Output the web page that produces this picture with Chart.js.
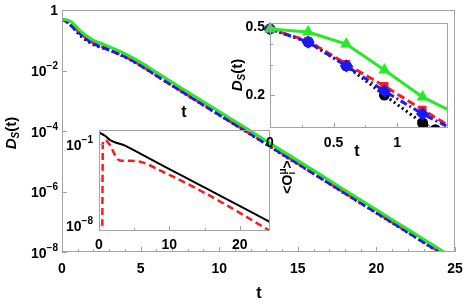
<!DOCTYPE html>
<html>
<head>
    <title>D_S(t)</title>
    <script src="https://cdn.jsdelivr.net/npm/chart.js"></script>
    <style>
        body { margin: 0; background: #fff; }
        #wrap { position: relative; width: 463px; height: 303px; }
        #wrap canvas { position: absolute; left: 0; top: 0; }
    </style>
</head>
<body>
<div id="wrap">
    <canvas id="mainChart" width="463" height="303"></canvas>
    <canvas id="obsChart" width="463" height="303"></canvas>
    <canvas id="zoomChart" width="463" height="303"></canvas>
</div>
<script>
    // main plot: D_S(t), log scale
    const mainT     = [0, 0.3, 0.6, 0.9, 1.2, 1.6, 2, 2.5, 3, 4, 5, 6, 8, 10, 12, 14, 16, 18, 20, 22, 24, 25];
    const mainGreen = [0.49, 0.47, 0.40, 0.282, 0.196, 0.135, 0.10, 0.078, 0.062, 0.036, 0.0186, 0.0087, 0.00195, 4.4e-4, 1.0e-4, 2.2e-5, 5.0e-6, 1.1e-6, 2.5e-7, 5.6e-8, 1.25e-8, 5.9e-9];
    const mainBlue  = [0.49, 0.411, 0.298, 0.212, 0.156, 0.105, 0.077, 0.060, 0.048, 0.0285, 0.0148, 0.0069, 0.00152, 3.45e-4, 7.9e-5, 1.75e-5, 3.95e-6, 8.8e-7, 2.0e-7, 4.5e-8, 1.0e-8, 4.7e-9];
    const mainRed   = [0.49, 0.417, 0.306, 0.227, 0.165, 0.110, 0.080, 0.062, 0.049, 0.029, 0.015, 0.0070, 0.00155, 3.5e-4, 8.0e-5, 1.8e-5, 4.0e-6, 9.0e-7, 2.05e-7, 4.6e-8, 1.03e-8, 4.8e-9];
    const mainBlack = [0.49, 0.411, 0.298, 0.201, 0.138, 0.095, 0.072, 0.058, 0.047, 0.028, 0.0145, 0.0068, 0.0015, 3.4e-4, 7.8e-5, 1.7e-5, 3.9e-6, 8.6e-7, 1.95e-7, 4.4e-8, 9.8e-9, 4.6e-9];
    const mainXTicks = [0, 5, 10, 15, 20, 25];
    const mainYTicks = [1, 1e-2, 1e-4, 1e-6, 1e-8];

    // top right inset: first steps
    const zoomT      = [0, 0.3, 0.6, 0.9, 1.2, 1.4];
    const zoomGreen  = [0.49, 0.47, 0.40, 0.282, 0.196, 0.165];
    const zoomRed    = [0.49, 0.417, 0.306, 0.227, 0.165, 0.134];
    const zoomBlue   = [0.49, 0.411, 0.298, 0.212, 0.156, 0.131];
    const zoomBlackT = [0, 0.3, 0.6, 0.9, 1.2, 1.3, 1.4];
    const zoomBlack  = [0.49, 0.411, 0.298, 0.201, 0.138, 0.126, 0.114];
    const zoomXTicks = [0, 0.5, 1];
    const zoomYTicks = [0.5, 0.2];

    // bottom left inset: <O_i^mu>
    const obsBlackT = [0, 0.85, 1.56, 2.27, 3.7, 6, 10, 14, 18, 22, 24.3];
    const obsBlack  = [1.0, 0.51, 0.22, 0.14, 0.072, 0.013, 6.8e-4, 3.6e-5, 1.9e-6, 9.9e-8, 1.8e-8];
    const obsRedT   = [0.45, 0.55, 0.85, 1.56, 2.03, 2.5, 2.98, 4.16, 6.05, 8.9, 13.6, 18.3, 24.3];
    const obsRed    = [1e-10, 0.12, 0.22, 0.08, 0.022, 0.006, 0.0037, 0.0035, 0.0027, 4.4e-4, 1.7e-5, 4.5e-7, 3.0e-9];
    const obsXTicks = [0, 10, 20];
    const obsYTicks = [1e-1, 1e-8];

    const GREEN = 'rgb(40,232,40)', RED = 'rgb(255,25,25)', BLUE = 'rgb(25,25,255)', BLACK = '#000';
    const FONT = '"Liberation Sans", Arial, sans-serif';
    const FRAME = '#a4a4a4';

    function pts(xs, ys) { return xs.map((x, i) => ({x: x, y: ys[i]})); }

    function textRun(ctx, parts, x, y, rot, align) {
        ctx.save();
        ctx.translate(x, y);
        ctx.rotate(rot || 0);
        ctx.textBaseline = 'middle';
        ctx.textAlign = 'left';
        ctx.fillStyle = '#000';
        let total = 0;
        parts.forEach(p => {
            ctx.font = (p.style || 'bold') + ' ' + p.size + 'px ' + FONT;
            p.w = ctx.measureText(p.t).width;
            if (!p.stay) total += p.w;
        });
        let cx = align === 'right' ? -total : -total / 2;
        parts.forEach(p => {
            ctx.font = (p.style || 'bold') + ' ' + p.size + 'px ' + FONT;
            ctx.fillText(p.t, cx, p.dy || 0);
            if (!p.stay) cx += p.w;
        });
        ctx.restore();
    }

    function logLabel(v) {
        const e = Math.round(Math.log10(v));
        if (e === 0) return [{t: '1', size: 14, dy: 1}];
        return [{t: '10', size: 14, dy: 2}, {t: '\u2212' + Math.abs(e), size: 10, dy: -4}];
    }
    function linLabel(v) { return [{t: String(v), size: 14}]; }

    // frame, inward ticks, tick labels and titles
    const frameAxes = {
        id: 'frameAxes',
        afterDatasetsDraw(chart, args, o) {
            const ctx = chart.ctx, a = chart.chartArea;
            const x = chart.scales.x, y = chart.scales.y;
            ctx.save();
            ctx.strokeStyle = FRAME;
            ctx.lineWidth = 1;
            ctx.strokeRect(Math.round(a.left) + 0.5, Math.round(a.top) + 0.5, Math.round(a.width) - 1, Math.round(a.height) - 1);
            ctx.beginPath();
            o.xMajor.concat(o.xMinor).forEach(v => {
                const px = Math.round(x.getPixelForValue(v)) + 0.5;
                const len = o.xMajor.includes(v) ? 5 : 3;
                ctx.moveTo(px, a.bottom); ctx.lineTo(px, a.bottom - len);
            });
            o.yMajor.concat(o.yMinor).forEach(v => {
                const py = Math.round(y.getPixelForValue(v)) + 0.5;
                const len = o.yMajor.includes(v) ? 5 : 3;
                ctx.moveTo(a.left, py); ctx.lineTo(a.left + len, py);
            });
            ctx.stroke();
            o.xMajor.forEach(v => textRun(ctx, linLabel(v), x.getPixelForValue(v), o.xLabelY, 0, 'center'));
            o.yMajor.forEach(v => textRun(ctx, o.yLog ? logLabel(v) : linLabel(v), o.yLabelX, y.getPixelForValue(v), 0, 'right'));
            (o.texts || []).forEach(t => textRun(ctx, t.parts, t.x, t.y, t.rot, 'center'));
            ctx.restore();
        }
    };

    const dsTitle = () => [
        {t: 'D', style: 'italic bold', size: 15},
        {t: 'S', style: 'italic bold', size: 10, dy: 4},
        {t: '(t)', size: 15}
    ];

    function baseOptions(pad, xr, yr, axes) {
        return {
            responsive: false,
            animation: false,
            events: [],
            devicePixelRatio: 1,
            layout: {padding: pad},
            scales: {
                x: {type: 'linear', min: xr[0], max: xr[1], display: false},
                y: {type: 'logarithmic', min: yr[0], max: yr[1], display: false}
            },
            plugins: {legend: {display: false}, tooltip: {enabled: false}, frameAxes: axes}
        };
    }

    const mainMinor = [];
    for (let v = 1; v < 25; v++) if (v % 5) mainMinor.push(v);

    new Chart(document.getElementById('mainChart'), {
        type: 'line',
        data: {
            datasets: [
                {data: pts(mainT, mainGreen), borderColor: GREEN, borderWidth: 3},
                {data: pts(mainT, mainBlue), borderColor: BLUE, borderWidth: 3, borderDash: [7, 3]},
                {data: pts(mainT, mainRed), borderColor: RED, borderWidth: 3, borderDash: [8, 4]},
                {data: pts(mainT, mainBlack), borderColor: BLACK, borderWidth: 3, borderDash: [2, 3]}
            ]
        },
        options: Object.assign(baseOptions({left: 62, top: 10, right: 8, bottom: 51}, [0, 25], [1e-8, 1], {
            xMajor: mainXTicks, xMinor: mainMinor, yMajor: mainYTicks, yMinor: [],
            xLabelY: 269, yLabelX: 58, yLog: true,
            texts: [
                {x: 12, y: 133, rot: -Math.PI / 2, parts: dsTitle()},
                {x: 259, y: 294, parts: [{t: 't', size: 16}]},
                {x: 184, y: 113, parts: [{t: 't', size: 16}]}
            ]
        }), {
            elements: {point: {radius: 0}, line: {cubicInterpolationMode: 'monotone'}}
        }),
        plugins: [frameAxes]
    });

    new Chart(document.getElementById('obsChart'), {
        type: 'line',
        data: {
            datasets: [
                {data: pts(obsBlackT, obsBlack), borderColor: BLACK, borderWidth: 2},
                {data: pts(obsRedT, obsRed), borderColor: RED, borderWidth: 2.5, borderDash: [7, 4]}
            ]
        },
        options: Object.assign(baseOptions({left: 99, top: 130, right: 193, bottom: 72}, [0, 24.3], [3e-9, 1.62], {
            xMajor: obsXTicks, xMinor: [5, 15], yMajor: obsYTicks, yMinor: [1e-4],
            xLabelY: 245, yLabelX: 93, yLog: true,
            texts: [
                {x: 288, y: 177, rot: -Math.PI / 2, parts: [
                    {t: '<O', size: 14},
                    {t: 'i', size: 10, dy: 4, stay: true},
                    {t: '\u03bc', size: 10, dy: -5},
                    {t: '>', size: 14}
                ]}
            ]
        }), {
            elements: {point: {radius: 0}, line: {cubicInterpolationMode: 'monotone'}}
        }),
        plugins: [frameAxes]
    });

    const clipZoom = {left: 8, top: 8, right: 0, bottom: 0};
    new Chart(document.getElementById('zoomChart'), {
        type: 'line',
        data: {
            datasets: [
                {data: pts(zoomT, zoomGreen), borderColor: GREEN, backgroundColor: GREEN, borderWidth: 3,
                 pointStyle: 'triangle', pointRadius: [4, 4, 4, 4, 4, 0], clip: clipZoom},
                {data: pts(zoomT, zoomBlue), borderColor: BLUE, backgroundColor: BLUE, borderWidth: 3, borderDash: [7, 3, 2, 3],
                 pointStyle: 'rectRot', pointRadius: [4.5, 4.5, 4.5, 4.5, 4.5, 0], clip: clipZoom},
                {data: pts(zoomT, zoomRed), borderColor: RED, backgroundColor: RED, borderWidth: 3, borderDash: [8, 4],
                 pointStyle: 'rect', pointRadius: [3.5, 3.5, 3.5, 3.5, 3.5, 0], clip: clipZoom},
                {data: pts(zoomBlackT, zoomBlack), borderColor: BLACK, backgroundColor: BLACK, borderWidth: 3, borderDash: [2, 3],
                 pointStyle: 'circle', pointRadius: [4, 4, 4, 4, 4, 4, 0], clip: clipZoom}
            ]
        },
        options: Object.assign(baseOptions({left: 270, top: 23, right: 15, bottom: 175}, [0, 1.4], [0.129, 0.531], {
            xMajor: zoomXTicks, xMinor: [0.25, 0.75, 1.25], yMajor: zoomYTicks, yMinor: [0.3, 0.4],
            xLabelY: 143, yLabelX: 265, yLog: false,
            texts: [
                {x: 238, y: 75, rot: -Math.PI / 2, parts: dsTitle()},
                {x: 357, y: 152, parts: [{t: 't', size: 16}]}
            ]
        }), {
            elements: {point: {borderWidth: 0}, line: {tension: 0}}
        }),
        plugins: [frameAxes]
    });
</script>
</body>
</html>
